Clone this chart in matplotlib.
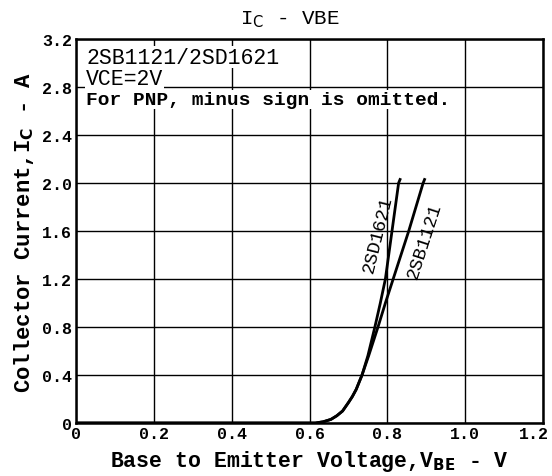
import matplotlib
matplotlib.use("Agg")
import matplotlib.pyplot as plt
import matplotlib.transforms as mtransforms

# ---- data ----
vbe_2sd1621 = [0.0, 0.60, 0.615, 0.635, 0.655, 0.67, 0.685, 0.70, 0.71, 0.72, 0.735, 0.75, 0.768, 0.782, 0.795, 0.812, 0.829, 0.834]
ic_2sd1621  = [0.0, 0.00, 0.00, 0.01, 0.03, 0.06, 0.10, 0.17, 0.22, 0.28, 0.40, 0.56, 0.80, 1.00, 1.20, 1.60, 2.00, 2.04]
vbe_2sb1121 = [0.0, 0.60, 0.615, 0.635, 0.655, 0.67, 0.685, 0.70, 0.71, 0.72, 0.735, 0.752, 0.776, 0.795, 0.815, 0.855, 0.892, 0.897]
ic_2sb1121  = [0.0, 0.00, 0.00, 0.01, 0.03, 0.06, 0.10, 0.17, 0.22, 0.28, 0.40, 0.56, 0.80, 1.00, 1.20, 1.60, 2.00, 2.04]

x_ticks = [0, 0.2, 0.4, 0.6, 0.8, 1.0, 1.2]
x_tick_labels = ["0", "0.2", "0.4", "0.6", "0.8", "1.0", "1.2"]
y_ticks = [0, 0.4, 0.8, 1.2, 1.6, 2.0, 2.4, 2.8, 3.2]
y_tick_labels = ["0", "0.4", "0.8", "1.2", "1.6", "2.0", "2.4", "2.8", "3.2"]

mono = "Liberation Mono"

fig = plt.figure(figsize=(5.52, 4.77), dpi=100)
ax = fig.add_axes([76/552, 1-424/477, (543-76)/552, (424-40)/477])

ax.set_xlim(0, 1.2)
ax.set_ylim(0, 3.2)
ax.set_xticks(x_ticks)
ax.set_xticklabels(x_tick_labels, fontfamily=mono, fontweight="bold", fontsize=12)
ax.set_yticks(y_ticks)
ax.set_yticklabels(y_tick_labels, fontfamily=mono, fontweight="bold", fontsize=12)
ax.tick_params(axis="both", length=0, pad=3)
ax.tick_params(axis="x", pad=2)
# keep the last x tick label inside the figure
last = ax.get_xticklabels()[-1]
last.set_transform(last.get_transform() + mtransforms.ScaledTranslation(-9/100, 0, fig.dpi_scale_trans))

ax.grid(True, color="black", linewidth=1.0)
for s in ax.spines.values():
    s.set_linewidth(1.8)

ax.plot(vbe_2sd1621, ic_2sd1621, color="black", linewidth=2.0, solid_capstyle="butt")
ax.plot(vbe_2sb1121, ic_2sb1121, color="black", linewidth=2.0, solid_capstyle="butt")

ax.text(0.776, 1.575, "2SD1621", rotation=76, fontfamily=mono, fontsize=13.5,
        ha="center", va="center", rotation_mode="anchor")
ax.text(0.895, 1.52, "2SB1121", rotation=72, fontfamily=mono, fontsize=13.5,
        ha="center", va="center", rotation_mode="anchor")

bb = dict(facecolor="white", edgecolor="none", pad=0.5)
ax.text(0.026, 3.135, "2SB1121/2SD1621", fontfamily=mono, fontsize=15.5,
        ha="left", va="top", bbox=bb)
ax.text(0.026, 2.955, "VCE=2V", fontfamily=mono, fontsize=15.5,
        ha="left", va="top", bbox=bb)
ax.text(0.026, 2.765, "For PNP, minus sign is omitted.", fontfamily=mono, fontsize=14,
        fontweight="bold", ha="left", va="top", bbox=bb)

ax.set_xlabel(r"Base to Emitter Voltage,V$_{\mathbf{BE}}$ - V", fontfamily=mono,
              fontweight="bold", fontsize=15.5, labelpad=5)
ax.set_ylabel(r"Collector Current,I$_{\mathbf{C}}$ - A", fontfamily=mono,
              fontweight="bold", fontsize=16, labelpad=4)
fig.text(290/552, 1-20/477, r"I$_{\mathrm{C}}$ - VBE", fontfamily=mono, fontsize=15,
         ha="center", va="center")

fig.savefig("out.png", dpi=100)
